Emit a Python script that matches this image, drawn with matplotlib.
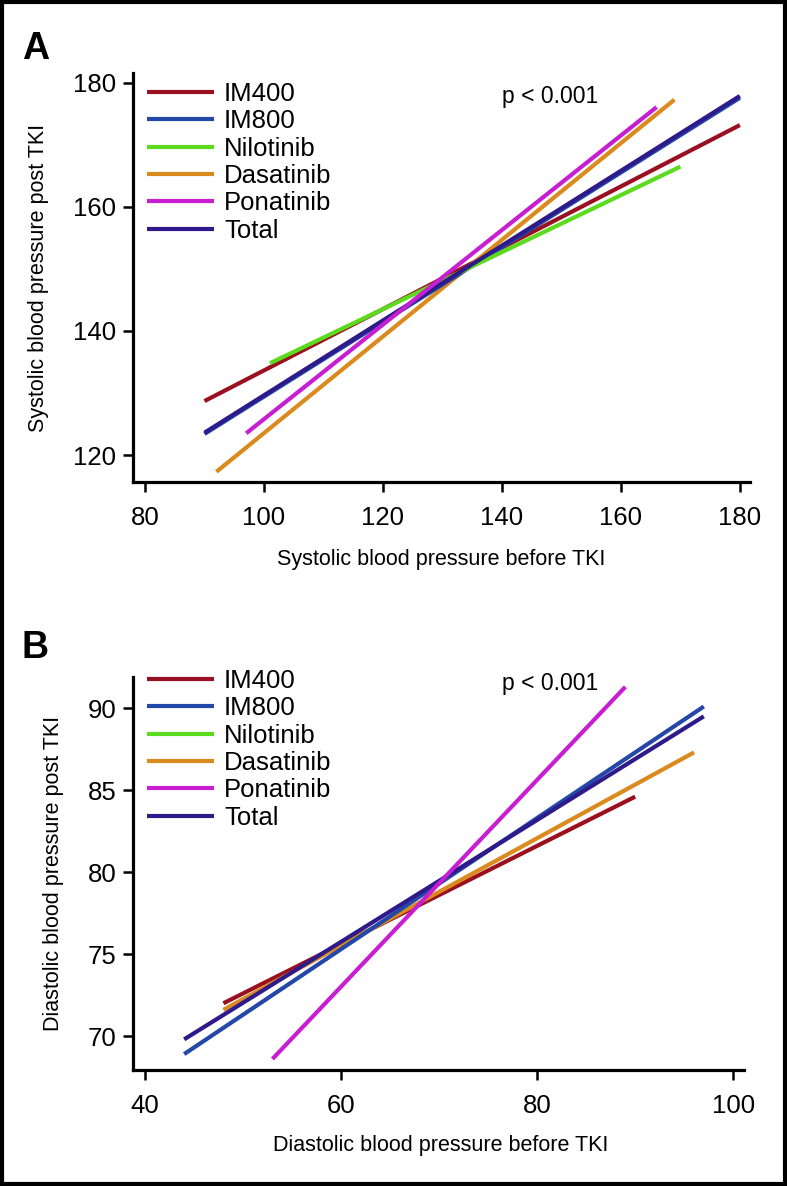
import numpy as np
import matplotlib
matplotlib.use("Agg")
import matplotlib.pyplot as plt
from matplotlib import font_manager
from matplotlib.patches import Rectangle

# fitted regression lines (start/end of each line)
groups = ["IM400", "IM800", "Nilotinib", "Dasatinib", "Ponatinib", "Total"]
colors = ["#9B1020", "#2348A8", "#5CDB1E", "#DB8A1E", "#C81ED2", "#2E1A8A"]

sys_x_start = [90, 90, 101, 92, 97, 90]
sys_x_end = [180, 180, 170, 169, 166, 180]
sys_y_start = [128.7, 123.4, 134.8, 117.3, 123.5, 123.6]
sys_y_end = [173.2, 177.6, 166.5, 177.3, 176.1, 177.9]

# no nilotinib line in the diastolic panel
dia_x_start = [48, 44, np.nan, 48, 53, 44]
dia_x_end = [90, 97, np.nan, 96, 89, 97]
dia_y_start = [72.0, 68.9, np.nan, 71.6, 68.6, 69.8]
dia_y_end = [84.6, 90.1, np.nan, 87.3, 91.3, 89.5]

sys_xticks = [80, 100, 120, 140, 160, 180]
sys_yticks = [120, 140, 160, 180]
dia_xticks = [40, 60, 80, 100]
dia_yticks = [70, 75, 80, 85, 90]

W, H = 787, 1186
fig = plt.figure(figsize=(W / 100, H / 100), dpi=100)
plt.rcParams['font.family'] = ['Liberation Sans', 'DejaVu Sans']

# axis titles are set in a condensed face in the original
installed = {f.name for f in font_manager.fontManager.ttflist}
if 'Liberation Sans Narrow' in installed:
    lab_font, lab_size = ['Liberation Sans Narrow', 'DejaVu Sans'], 18
else:
    lab_font, lab_size = ['Liberation Sans', 'DejaVu Sans'], 15.5

def fx(px):
    return px / W

def fy(py):
    return 1 - py / H

draw_order = [0, 3, 1, 2, 5, 4]

def panel(rect, xs, xe, ys, ye, xlim, ylim, xticks, yticks, xlabel, ylabel,
          letter, letter_y, top, xlab_y, ylab_x, ylab_y):
    ax = fig.add_axes(rect)
    for i in draw_order:
        ax.plot([xs[i], xe[i]], [ys[i], ye[i]], color=colors[i], lw=3,
                solid_capstyle='butt', label=groups[i])
    ax.set_xlim(*xlim)
    ax.set_ylim(*ylim)
    ax.set_xticks(xticks)
    ax.set_yticks(yticks)
    for s in ['top', 'right']:
        ax.spines[s].set_visible(False)
    for s in ['left', 'bottom']:
        ax.spines[s].set_linewidth(2.3)
    ax.tick_params(axis='both', length=7, width=1.8, labelsize=18.5)
    ax.tick_params(axis='y', pad=5)
    ax.tick_params(axis='x', pad=10)

    handles, labels = ax.get_legend_handles_labels()
    order = [labels.index(g) for g in groups]
    ax.legend([handles[k] for k in order], [labels[k] for k in order],
              loc='upper left', frameon=False, fontsize=18.5,
              bbox_to_anchor=(fx(147), fy(top)), bbox_transform=fig.transFigure,
              borderaxespad=0, borderpad=0, handlelength=2.6,
              handletextpad=0.4, labelspacing=0.13)

    fig.text(fx(502), fy(top + 21), "p < 0.001", fontsize=16.5, va='baseline',
             ha='left')
    fig.text(fx(22), fy(letter_y), letter, fontsize=27, fontweight='bold',
             va='baseline', ha='left')
    fig.text(fx(441), fy(xlab_y), xlabel, fontsize=lab_size, ha='center',
             va='center', family=lab_font)
    fig.text(fx(ylab_x), fy(ylab_y), ylabel, fontsize=lab_size, ha='center',
             va='center', rotation=90, family=lab_font)
    return ax

panel([fx(133), fy(482), (750 - 133) / W, (482 - 73) / H],
      sys_x_start, sys_x_end, sys_y_start, sys_y_end,
      (77.98, 181.7), (115.65, 181.6), sys_xticks, sys_yticks,
      "Systolic blood pressure before TKI", "Systolic blood pressure post TKI",
      "A", 59, 82, 559, 39, 278)

panel([fx(133), fy(1070), (744 - 133) / W, (1070 - 677) / H],
      dia_x_start, dia_x_end, dia_y_start, dia_y_end,
      (38.78, 101.1), (67.93, 91.9), dia_xticks, dia_yticks,
      "Diastolic blood pressure before TKI", "Diastolic blood pressure post TKI",
      "B", 658, 669, 1146, 54, 873)

fig.patches.append(Rectangle((0.002, 0.0015), 0.996, 0.997, transform=fig.transFigure,
                             fill=False, lw=3, edgecolor='black'))

fig.savefig("out.png", dpi=100)
